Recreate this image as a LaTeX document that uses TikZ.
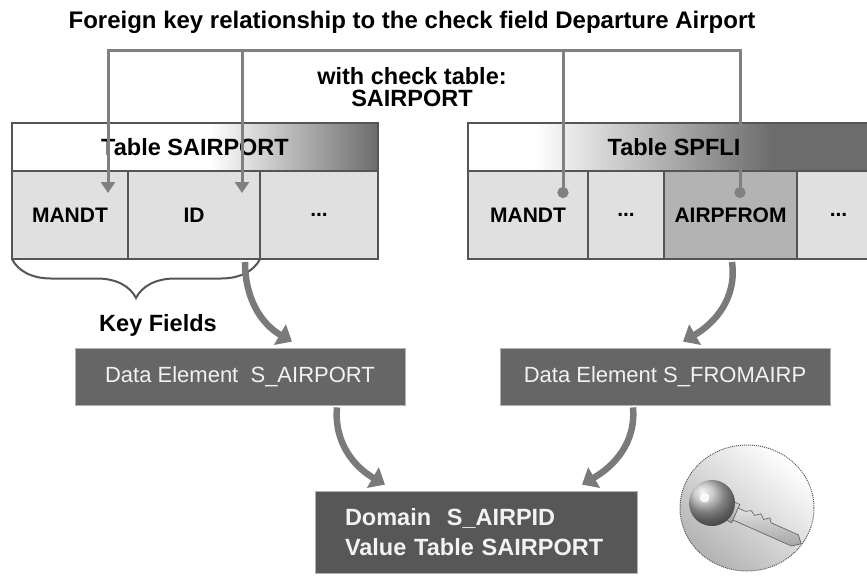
\documentclass[tikz,border=0pt]{standalone}
\usepackage{fontspec}
\setmainfont{Liberation Sans}
\usepackage{tikz}
\usetikzlibrary{arrows.meta,positioning,shapes,calc,decorations.pathreplacing}
\usepackage{xcolor}
\definecolor{cellgray}{HTML}{E0E0E0}
\definecolor{selgray}{HTML}{B3B3B3}
\definecolor{rulegray}{HTML}{555555}
\definecolor{linkgray}{HTML}{808080}
\definecolor{flowgray}{HTML}{7A7A7A}
\definecolor{boxgray}{HTML}{666666}
\definecolor{domgray}{HTML}{575757}
\definecolor{headdark}{HTML}{6C6C6C}
\pgfdeclarehorizontalshading{hdrleft}{100bp}{color(0bp)=(white); color(52bp)=(white); color(75bp)=(headdark); color(100bp)=(headdark)}
\pgfdeclarehorizontalshading{hdrright}{100bp}{color(0bp)=(white); color(33bp)=(white); color(62bp)=(headdark); color(100bp)=(headdark)}
\newcommand{\ptsize}[1]{\fontsize{#1}{#1}\selectfont}

\begin{document}
\begin{tikzpicture}[x=1pt,y=1pt,
    cell/.style={draw=rulegray, line width=2pt, fill=cellgray, minimum height=88pt,
      inner sep=0pt, outer sep=0pt, font=\bfseries\ptsize{21}},
    head/.style={draw=rulegray, line width=2pt, shade, minimum height=48pt,
      inner sep=0pt, outer sep=0pt, font=\bfseries\ptsize{23.5}},
    fkline/.style={draw=linkgray, line width=3pt,
      {Circle[length=11pt]}-{Triangle[length=11pt,width=14pt]}},
    flow/.style={draw=flowgray, line width=6.5pt, -{Triangle[length=14pt,width=23pt]}},
    elem/.style={fill=boxgray, draw=gray!60, line width=0.8pt, text=white!95!black,
      minimum width=330pt, minimum height=57pt, inner sep=0pt, font=\ptsize{22}}]
  \useasboundingbox (0,0) rectangle (867,-578);

  % Title
  \node[font=\bfseries\ptsize{24}] (title) at (412,-22)
    {Foreign key relationship to the check field Departure Airport};

  % Check table SAIRPORT
  \node[cell, minimum width=116pt] (sa-mandt) at (70,-215) {MANDT};
  \node[cell, minimum width=132pt, right=0pt of sa-mandt] (sa-id) {ID};
  \node[cell, minimum width=118pt, right=0pt of sa-id] (sa-more) {...};
  \node[head, shading=hdrleft, minimum width=366pt,
    above right=0pt of sa-mandt.north west] (sa-head) {Table SAIRPORT};

  % Foreign key table SPFLI
  \node[cell, minimum width=120pt] (sp-mandt) at (528,-215) {MANDT};
  \node[cell, minimum width=76pt, right=0pt of sp-mandt] (sp-dots) {...};
  \node[cell, minimum width=133pt, fill=selgray, right=0pt of sp-dots] (sp-from) {AIRPFROM};
  \node[cell, minimum width=83pt, right=0pt of sp-from] (sp-more) {...};
  \node[head, shading=hdrright, minimum width=412pt,
    above right=0pt of sp-mandt.north west] (sp-head) {Table SPFLI};

  \node[font=\bfseries\ptsize{23.5}, align=center] (checktab) at (412,-87)
    {with check table:\\[-2pt] SAIRPORT};

  % Foreign key links
  \coordinate (sa-mandt-in) at (108,-193);
  \coordinate (sa-id-in) at (242,-193);
  \coordinate (sp-mandt-out) at (563,-198);
  \coordinate (sp-from-out) at (740,-198);
  \draw[fkline] (sp-mandt-out) -- ++(0,147) -| (sa-mandt-in);
  \draw[fkline] (sp-from-out) -- ++(0,147) -| (sa-id-in);

  % Key fields brace
  \draw[draw=rulegray, line width=2pt,
    decorate, decoration={brace, mirror, amplitude=39pt}]
    (sa-mandt.south west) -- (sa-id.south east);
  \node[font=\bfseries\ptsize{23.5}] (keyfields) at (158,-325) {Key Fields};

  % Data elements and domain
  \node[elem] (de-airport) at (240,-376.5) {Data Element\ \ S\_AIRPORT};
  \node[elem] (de-fromairp) at (665,-376.5) {Data Element S\_FROMAIRP};
  \node[fill=domgray, draw=gray!60, line width=0.8pt, text=white!95!black,
    minimum height=82pt, text width=262pt, inner xsep=30pt, inner ysep=0pt,
    align=left, font=\bfseries\fontsize{23.5}{30}\selectfont] (dom) at (476,-532)
    {Domain\ \ S\_AIRPID\\ Value Table SAIRPORT};

  % Flow arrows
  \draw[flow] ([xshift=-15pt,yshift=-3pt]sa-id.south east)
    to[out=-90,in=150] ([xshift=52pt,yshift=6pt]de-airport.north);
  \draw[flow] ([xshift=1.5pt,yshift=-3pt]sp-from.south)
    to[out=-82,in=30] ([xshift=18pt,yshift=6pt]de-fromairp.north);
  \draw[flow] ([xshift=97pt,yshift=-2pt]de-airport.south)
    to[out=-95,in=150] ([xshift=-91pt,yshift=6pt]dom.north);
  \draw[flow] ([xshift=-32pt,yshift=-2pt]de-fromairp.south)
    to[out=-85,in=30] ([xshift=106pt,yshift=6pt]dom.north);

  % Key emblem
  \draw[densely dotted, line width=1pt, draw=rulegray, top color=white,
    bottom color=gray!60, shading angle=-40] (747,-508) ellipse [x radius=67, y radius=63];
  \begin{scope}[shift={(712,-503)}, rotate=-24]
    \shade[top color=gray!20, bottom color=gray!70, draw=gray!70!black, line width=0.6pt]
      (18,-7) -- (90,-7) -- (98,-1) -- (92,6) -- (62,6) -- (59,10) -- (54,6)
      -- (49,10) -- (44,6) -- (39,9) -- (34,6) -- (18,6) -- cycle;
    \shade[top color=gray!30, bottom color=gray!75, draw=gray!70!black, line width=0.6pt]
      (17,-10) rectangle (26,10);
    \shade[ball color=gray!55] (0,0) circle (23);
    \fill[white, opacity=.85] (-9,2) circle (5);
  \end{scope}
\end{tikzpicture}
\end{document}
